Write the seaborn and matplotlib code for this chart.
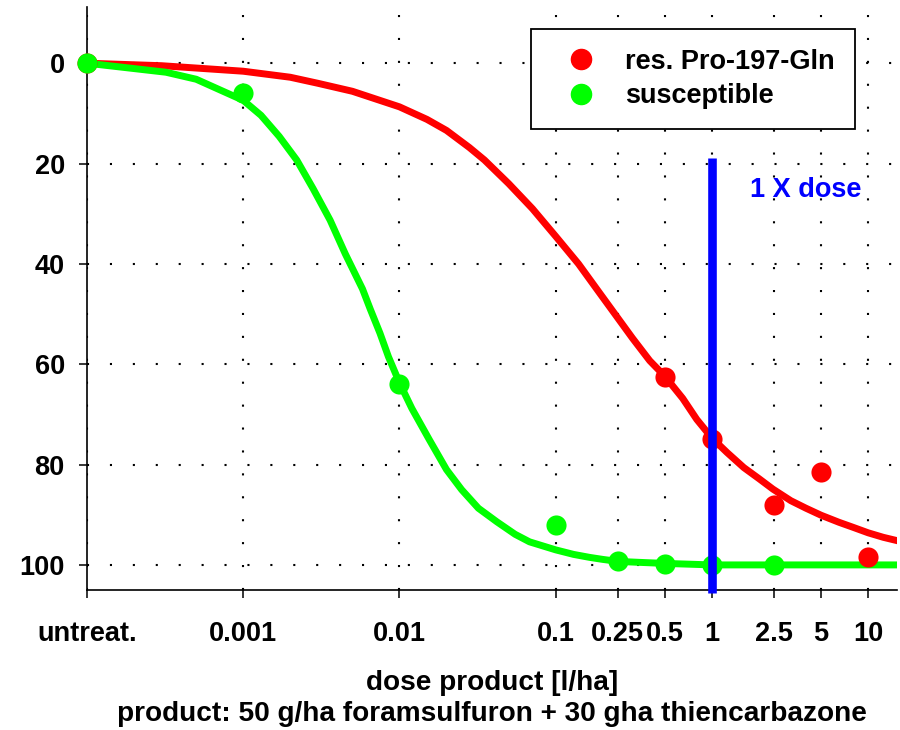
import numpy as np
import pandas as pd
import matplotlib
matplotlib.use("Agg")
import matplotlib.pyplot as plt
from matplotlib.lines import Line2D
from matplotlib.ticker import NullLocator
import seaborn as sns

# --- data (0.0001 stands for the untreated control) ---
dose_res = [0.0001, 0.5, 1, 2.5, 5, 10]
eff_res = [0, 62.5, 75, 88, 81.5, 98.5]
dose_sus = [0.0001, 0.001, 0.01, 0.1, 0.25, 0.5, 1, 2.5]
eff_sus = [0, 6, 64, 92, 99.3, 99.8, 100, 100]

# fitted dose-response curves
curve_dose_res = [0.0001, 0.0003, 0.001, 0.002, 0.003, 0.005, 0.01, 0.015, 0.02, 0.028,
                  0.035, 0.05, 0.071, 0.1, 0.14, 0.19, 0.25, 0.31, 0.4, 0.5,
                  0.65, 0.8, 1, 1.25, 1.6, 2.0, 2.46, 3.2, 4.0, 5,
                  6.5, 8, 10, 12.5, 15.5]
curve_eff_res = [0, 0.5, 1.6, 2.8, 4.0, 5.6, 8.7, 11.2, 13.4, 16.8,
                 19.3, 24, 29, 34.5, 40, 45.7, 50.8, 54.8, 59.3, 62.4,
                 66.8, 71, 74.7, 77.6, 80.6, 82.8, 84.9, 87.2, 88.7, 90.1,
                 91.5, 92.5, 93.6, 94.5, 95.2]
curve_dose_sus = [0.0001, 0.00032, 0.0005, 0.001, 0.0013, 0.0017, 0.0022, 0.0028, 0.0036,
                  0.0045, 0.0058, 0.0065, 0.0075, 0.0085, 0.01, 0.012, 0.0155, 0.02,
                  0.025, 0.032, 0.042, 0.055, 0.068, 0.1, 0.13, 0.165, 0.2, 0.25,
                  0.35, 0.5, 1, 15.5]
curve_eff_sus = [0, 1.8, 3.2, 7.4, 10.4, 14.6, 19.3, 25, 31.3,
                 38, 45, 49, 53.8, 58.5, 63.7, 68.8, 75, 81,
                 85, 88.7, 91.4, 93.9, 95.4, 97, 97.9, 98.5, 98.9, 99.3,
                 99.5, 99.7, 100, 100]

tick_pos = [0.0001, 0.001, 0.01, 0.1, 0.25, 0.5, 1, 2.5, 5, 10]
tick_lab = ["untreat.", "0.001", "0.01", "0.1", "0.25", "0.5", "1", "2.5", "5", "10"]
y_ticks = [0, 20, 40, 60, 80, 100]

RED = "#ff0000"
GREEN = "#00ff00"
BLUE = "#0000ff"

df_res = pd.DataFrame({"dose": curve_dose_res, "eff": curve_eff_res})
df_sus = pd.DataFrame({"dose": curve_dose_sus, "eff": curve_eff_sus})
pts_res = pd.DataFrame({"dose": dose_res, "eff": eff_res})
pts_sus = pd.DataFrame({"dose": dose_sus, "eff": eff_sus})

sns.set_theme(style="white")
plt.rcParams["font.family"] = ["Liberation Sans", "DejaVu Sans"]
plt.rcParams["font.weight"] = "bold"
plt.rcParams["text.color"] = "black"
plt.rcParams["axes.labelcolor"] = "black"
plt.rcParams["xtick.color"] = "black"
plt.rcParams["ytick.color"] = "black"
FS = 19.5

fig = plt.figure(figsize=(9, 7.3), dpi=100)
ax = fig.add_axes([87 / 900, 1 - 590 / 730, 810 / 900, 583 / 730])
ax.set_xscale("log")

# curves
sns.lineplot(data=df_res, x="dose", y="eff", color=RED, linewidth=5, ax=ax, zorder=2,
             solid_joinstyle="round", solid_capstyle="butt")
sns.lineplot(data=df_sus, x="dose", y="eff", color=GREEN, linewidth=5, ax=ax, zorder=2,
             solid_joinstyle="round", solid_capstyle="butt")

# measured points
sns.scatterplot(data=pts_res, x="dose", y="eff", color=RED, s=210, linewidth=0,
                ax=ax, zorder=3, clip_on=False)
sns.scatterplot(data=pts_sus, x="dose", y="eff", color=GREEN, s=210, linewidth=0,
                ax=ax, zorder=4, clip_on=False)

# 1 X dose line
ax.vlines(1, 18.9, 105.6, color=BLUE, linewidth=6.2, zorder=5, clip_on=False)
ax.text(1.75, 25.3, "1 X dose", color=BLUE, fontsize=FS, fontweight="bold",
        ha="left", va="center", zorder=6)

ax.set_xlim(1e-4, 15.3)
ax.set_ylim(105, -11.2)
ax.set_xticks(tick_pos)
ax.set_xticklabels(tick_lab)
ax.xaxis.set_minor_locator(NullLocator())
ax.set_yticks(y_ticks)

ax.grid(True, which="major", color="black", linestyle=(0, (1, 10)), linewidth=1.5, zorder=0)
ax.set_axisbelow(True)

for side in ["top", "right"]:
    ax.spines[side].set_visible(False)
for side in ["left", "bottom"]:
    ax.spines[side].set_color("black")
    ax.spines[side].set_linewidth(1.2)

ax.tick_params(axis="both", direction="out", length=6, width=1.1, color="black",
               labelsize=FS, left=True, bottom=True)
ax.tick_params(axis="y", pad=10)
ax.tick_params(axis="x", pad=16)
for lab in ax.get_xticklabels() + ax.get_yticklabels():
    lab.set_fontweight("bold")

ax.set_xlabel("dose product [l/ha]\nproduct: 50 g/ha foramsulfuron + 30 gha thiencarbazone",
              fontsize=20.2, fontweight="bold", labelpad=17, linespacing=1.25)
ax.set_ylabel("")

handles = [
    Line2D([], [], marker="o", color=RED, linestyle="none", markersize=14.5),
    Line2D([], [], marker="o", color=GREEN, linestyle="none", markersize=14.5),
]
leg = ax.legend(handles, ["res. Pro-197-Gln", "susceptible"], loc="upper right",
                bbox_to_anchor=(0.948, 0.962), borderaxespad=0,
                frameon=True, fancybox=False, edgecolor="black", framealpha=1,
                handlelength=2.2, handletextpad=0.55, borderpad=0.73, labelspacing=0.3,
                prop={"weight": "bold", "size": FS})
leg.get_frame().set_linewidth(1.3)
leg.set_zorder(10)

fig.savefig("out.png", dpi=100)
